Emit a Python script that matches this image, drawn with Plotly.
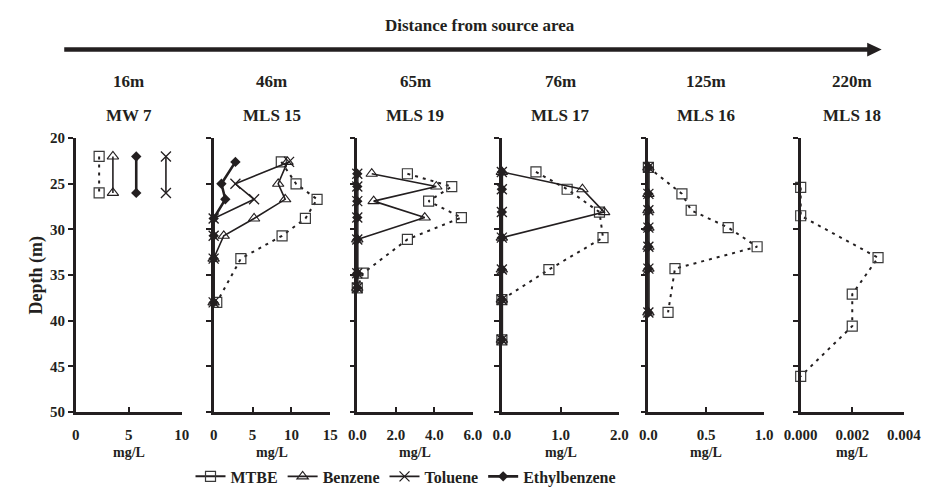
import plotly.graph_objects as go

# ---- well names, distances and concentration profiles (mg/L vs depth in m) ----
wells = ["MW 7", "MLS 15", "MLS 19", "MLS 17", "MLS 16", "MLS 18"]
distances = ["16m", "46m", "65m", "76m", "125m", "220m"]

mw7_depth = [22.0, 26.0]
mw7_mtbe = [2.2, 2.2]
mw7_benzene = [3.5, 3.5]
mw7_toluene = [8.5, 8.5]
mw7_ethylbenzene = [5.7, 5.7]

mls15_depth = [22.6, 25.0, 26.7, 28.8, 30.7, 33.2, 38.0]
mls15_mtbe = [8.7, 10.6, 13.3, 11.8, 8.8, 3.5, 0.4]
mls15_benzene = [9.5, 8.3, 9.2, 5.2, 1.3, 0.0, 0.0]
mls15_toluene = [9.7, 2.8, 5.2, 0.0, 0.0, 0.0, 0.0]
mls15_ethylbenzene = [2.8, 1.0, 1.5, 0.0, 0.0, 0.0, 0.0]

mls19_depth = [23.9, 25.3, 26.9, 28.7, 31.1, 34.8, 36.4]
mls19_mtbe = [2.6, 4.9, 3.7, 5.4, 2.6, 0.3, 0.0]
mls19_benzene = [0.75, 4.1, 0.85, 3.5, 0.0, 0.0, 0.0]
mls19_toluene = [0.0, 0.0, 0.0, 0.0, 0.0, 0.0, 0.0]
mls19_ethylbenzene = [0.0, 0.0, 0.0, 0.0, 0.0, 0.0, 0.0]

mls17_depth = [23.7, 25.6, 28.1, 30.9, 34.4, 37.7, 42.1]
mls17_mtbe = [0.58, 1.11, 1.66, 1.72, 0.80, 0.0, 0.0]
mls17_benzene = [0.0, 1.37, 1.74, 0.0, 0.0, 0.0, 0.0]
mls17_toluene = [0.0, 0.0, 0.0, 0.0, 0.0, 0.0, 0.0]
mls17_ethylbenzene = [0.0, 0.0, 0.0, 0.0, 0.0, 0.0, 0.0]

mls16_depth = [23.2, 26.1, 27.9, 29.8, 31.9, 34.3, 39.1]
mls16_mtbe = [0.0, 0.29, 0.37, 0.69, 0.94, 0.23, 0.17]
mls16_benzene = [0.0, 0.0, 0.0, 0.0, 0.0, 0.0, 0.0]
mls16_toluene = [0.0, 0.0, 0.0, 0.0, 0.0, 0.0, 0.0]
mls16_ethylbenzene = [0.0, 0.0, 0.0, 0.0, 0.0, 0.0, 0.0]

mls18_depth = [25.4, 28.5, 33.1, 37.1, 40.6, 46.1]
mls18_mtbe = [0.0, 0.0, 0.003, 0.002, 0.002, 0.0]

x_ranges = [[0, 10], [0, 15], [0, 6], [0, 2], [0, 1], [0, 0.004]]
x_dticks = [5, 5, 2, 1, 0.5, 0.002]
x_formats = ["d", "d", ".1f", ".1f", ".1f", ".3f"]
depth_ticks = [20, 25, 30, 35, 40, 45, 50]

profiles = [
    (mw7_depth, {"MTBE": mw7_mtbe, "Benzene": mw7_benzene,
                 "Toluene": mw7_toluene, "Ethylbenzene": mw7_ethylbenzene}),
    (mls15_depth, {"MTBE": mls15_mtbe, "Benzene": mls15_benzene,
                   "Toluene": mls15_toluene, "Ethylbenzene": mls15_ethylbenzene}),
    (mls19_depth, {"MTBE": mls19_mtbe, "Benzene": mls19_benzene,
                   "Toluene": mls19_toluene, "Ethylbenzene": mls19_ethylbenzene}),
    (mls17_depth, {"MTBE": mls17_mtbe, "Benzene": mls17_benzene,
                   "Toluene": mls17_toluene, "Ethylbenzene": mls17_ethylbenzene}),
    (mls16_depth, {"MTBE": mls16_mtbe, "Benzene": mls16_benzene,
                   "Toluene": mls16_toluene, "Ethylbenzene": mls16_ethylbenzene}),
    (mls18_depth, {"MTBE": mls18_mtbe}),
]

# ---- styling ----
W, H = 943, 498
FONT = "Liberation Serif, Times New Roman, serif"
INK = "#231f20"

styles = {
    "MTBE": dict(line=dict(color=INK, width=2, dash="3px,5px"),
                 marker=dict(symbol="square-open", size=10, color="#3a3a3a",
                             line=dict(width=1.2))),
    "Benzene": dict(line=dict(color=INK, width=1.6),
                    marker=dict(symbol="triangle-up-open", size=10, color=INK,
                                line=dict(width=1.1))),
    "Toluene": dict(line=dict(color=INK, width=1.6),
                    marker=dict(symbol="x-thin-open", size=10, color=INK,
                                line=dict(width=1.3))),
    "Ethylbenzene": dict(line=dict(color=INK, width=2.6),
                         marker=dict(symbol="diamond", size=8, color=INK)),
}

# panel pixel extents (left, right) and plot top / bottom in pixels
panel_px = [(61, 171), (204, 325), (353, 473), (503, 625), (655, 775), (813, 920)]
top_px, bot_px = 134.5, 417.3

fig = go.Figure()

for i, (depth, series) in enumerate(profiles):
    n = "" if i == 0 else str(i + 1)
    for name, vals in series.items():
        st = styles[name]
        fig.add_trace(go.Scatter(
            x=vals, y=depth, mode="lines+markers", name=name,
            line=st["line"], marker=st["marker"], showlegend=False,
            xaxis="x" + n, yaxis="y" + n, cliponaxis=False,
        ))

# legend entries (solid line with symbol)
for name in ["MTBE", "Benzene", "Toluene", "Ethylbenzene"]:
    st = styles[name]
    fig.add_trace(go.Scatter(
        x=[None], y=[None], mode="lines+markers", name=name,
        line=dict(color=INK, width=st["line"]["width"]),
        marker=st["marker"], showlegend=True, xaxis="x", yaxis="y",
    ))

layout = dict(
    width=W, height=H,
    margin=dict(l=0, r=0, t=0, b=0),
    paper_bgcolor="white", plot_bgcolor="white",
    font=dict(family=FONT, color=INK),
    showlegend=True,
    legend=dict(orientation="h", x=180 / W, xanchor="left",
                y=1 - 484 / H, yanchor="middle",
                font=dict(family=FONT, size=16, color=INK, weight="bold"),
                itemwidth=30, tracegroupgap=0, bgcolor="rgba(0,0,0,0)"),
)

y_dom = [1 - bot_px / H, 1 - top_px / H]
for i in range(6):
    n = "" if i == 0 else str(i + 1)
    l, r = panel_px[i]
    layout["xaxis" + n] = dict(
        domain=[l / W, r / W], range=x_ranges[i], anchor="y" + n,
        showgrid=False, zeroline=False, showline=True, linecolor=INK, linewidth=2.5,
        ticks="inside", ticklen=5, tickwidth=1.5, tickcolor=INK,
        tick0=0, dtick=x_dticks[i], tickformat=x_formats[i],
        ticklabelstandoff=7,
        tickfont=dict(family=FONT, size=15, color=INK, weight="bold"),
        fixedrange=True,
    )
    layout["yaxis" + n] = dict(
        domain=y_dom, range=[50, 20], anchor="x" + n,
        showgrid=False, zeroline=False, showline=True, linecolor=INK, linewidth=2.5,
        ticks="outside", ticklen=5, tickwidth=1.5, tickcolor=INK,
        tickvals=depth_ticks, showticklabels=(i == 0),
        tickfont=dict(family=FONT, size=15, color=INK, weight="bold"),
        fixedrange=True,
    )

fig.update_layout(**layout)


def label(text, xref, x, y_px, size, angle=0):
    fig.add_annotation(text=text, xref=xref, x=x, yref="paper", y=1 - y_px / H,
                       xanchor="center", yanchor="middle", showarrow=False,
                       textangle=angle,
                       font=dict(family=FONT, size=size, color=INK, weight="bold"))


# headers: distance and well name centred over each panel, "mg/L" below
for i in range(6):
    n = "" if i == 0 else str(i + 1)
    label(distances[i], "x" + n + " domain", 0.5, 76, 17)
    label(wells[i], "x" + n + " domain", 0.5, 111, 17)
    label("mg/L", "x" + n + " domain", 0.5, 459, 14)

label("Depth (m)", "paper", 20 / W, 276, 18, angle=-90)
label("Distance from source area", "paper", 480 / W, 18, 17)

# distance arrow
ay = 1 - 43 / H
fig.add_shape(type="line", xref="paper", yref="paper",
              x0=49 / W, x1=884 / W, y0=ay, y1=ay,
              line=dict(color=INK, width=4.5))
fig.add_shape(type="path", xref="paper", yref="paper",
              path=f"M {882 / W} {1 - 36 / H} L {897 / W} {ay} L {882 / W} {1 - 50 / H} Z",
              fillcolor=INK, line=dict(color=INK, width=0))

fig.write_html("out.html")
